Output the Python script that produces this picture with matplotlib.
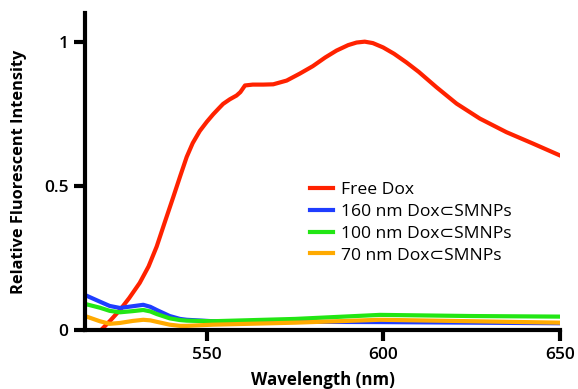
import matplotlib
matplotlib.use('Agg')
import matplotlib.pyplot as plt

# Free Dox
red_x = [519.7, 522.5, 525.4, 528, 531.0, 533.5, 535.8, 538, 540.5, 542.5, 544.3, 546,
         548.0, 550, 551.8, 553.5, 554.6, 556.5, 558.4, 559.5, 560.8, 563, 566, 568.8,
         572.6, 576.3, 580, 583.5, 586.7, 590, 592.4, 594.7, 597, 599.9, 603, 606.5,
         610, 615.0, 620.7, 627.3, 634.8, 642.4, 650]
red_y = [-0.005, 0.03, 0.069, 0.11, 0.163, 0.22, 0.289, 0.37, 0.461, 0.535, 0.600, 0.648,
         0.690, 0.722, 0.748, 0.77, 0.784, 0.80, 0.813, 0.825, 0.848, 0.851, 0.851, 0.852,
         0.865, 0.889, 0.915, 0.945, 0.969, 0.988, 0.997, 1.0, 0.995, 0.980, 0.958, 0.928,
         0.895, 0.842, 0.785, 0.733, 0.686, 0.646, 0.605]

# nanoparticle curves share the same x points
low_x = [515.5, 519.7, 522.5, 525.4, 529, 532, 534, 535.8, 539.5, 542.4, 544.3, 551.7,
         575, 599, 625, 650]
blue_y = [0.121, 0.098, 0.083, 0.076, 0.082, 0.087, 0.080, 0.069, 0.048, 0.038, 0.035,
          0.030, 0.028, 0.027, 0.025, 0.023]
green_y = [0.090, 0.077, 0.066, 0.061, 0.065, 0.069, 0.064, 0.055, 0.040, 0.034, 0.032,
           0.030, 0.038, 0.052, 0.048, 0.046]
orange_y = [0.048, 0.030, 0.021, 0.024, 0.031, 0.035, 0.033, 0.028, 0.018, 0.014, 0.014,
            0.018, 0.025, 0.035, 0.030, 0.025]

labels = ['Free Dox', '160 nm Dox\u2282SMNPs', '100 nm Dox\u2282SMNPs', '70 nm Dox\u2282SMNPs']
x_ticks = [550, 600, 650]
y_ticks = [0, 0.5, 1]
y_tick_labels = ['0', '0.5', '1']

plt.rcParams['font.family'] = ['Open Sans', 'DejaVu Sans']

fig = plt.figure(figsize=(5.78, 3.89), dpi=100)
ax = fig.add_axes([0.147, 0.152, 0.822, 0.815])

ax.plot(red_x, red_y, color='#ff2200', lw=3, label=labels[0])
ax.plot(low_x, blue_y, color='#1f3dff', lw=3, label=labels[1])
ax.plot(low_x, green_y, color='#22e614', lw=3, label=labels[2])
ax.plot(low_x, orange_y, color='#ffaa00', lw=3, label=labels[3])

ax.set_xlim(515.5, 650)
ax.set_ylim(0, 1.1)
ax.set_xticks(x_ticks)
ax.set_yticks(y_ticks)
ax.set_yticklabels(y_tick_labels)

for s in ['top', 'right']:
    ax.spines[s].set_visible(False)
for s in ['left', 'bottom']:
    ax.spines[s].set_linewidth(3)
ax.tick_params(width=3, length=8, labelsize=12.5, pad=4)
for t in ax.get_xticklabels() + ax.get_yticklabels():
    t.set_fontweight('semibold')

ax.set_xlabel('Wavelength (nm)', fontsize=12.2, fontweight='bold', labelpad=6)
ax.set_ylabel('Relative Fluorescent Intensity', fontsize=11.8, fontweight='bold', labelpad=12)

ax.legend(loc='upper left', bbox_to_anchor=(0.474, 0.467), frameon=False, fontsize=12.6,
          handlelength=1.3, handletextpad=0.45, labelspacing=0.32, borderaxespad=0,
          borderpad=0)

fig.savefig('out.png', dpi=100)
